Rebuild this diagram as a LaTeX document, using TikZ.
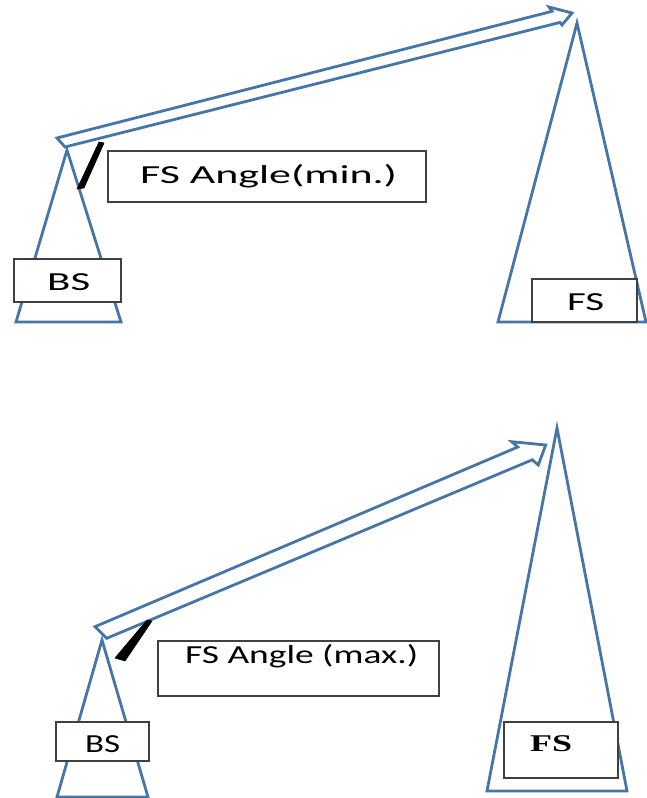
\documentclass[tikz,border=0pt]{standalone}
\usepackage{fontspec}
\usepackage{graphicx}
\newfontfamily\carl{Carlito}
\newfontfamily\tnr{Liberation Serif}
\definecolor{lineblue}{RGB}{70,118,168}
\definecolor{boxgray}{RGB}{64,64,64}
\newcommand\wtext[2]{\resizebox{#1}{\height}{#2}}
\begin{document}
\begin{tikzpicture}[x=1pt,y=-1pt,
  tri/.style={draw=lineblue,line width=2.8pt,line join=miter},
  arr/.style={draw=lineblue,line width=2.8pt,fill=white,line join=miter},
  wedge/.style={fill=black,draw=black,line width=0.6pt,line join=round},
  lbox/.style={draw=boxgray,line width=1.5pt,fill=white,inner sep=0pt,anchor=north west},
  lbl/.style={inner sep=0pt,anchor=base west,font=\carl\fontsize{26}{30}\selectfont},
  lblserif/.style={inner sep=0pt,anchor=base west,font=\tnr\bfseries\fontsize{24}{28}\selectfont}]
\useasboundingbox[fill=white] (0,0) rectangle (646,798);

% ---------------- top panel ----------------
\coordinate (bsA) at (67,150);
\coordinate (bsL) at (16,322);
\coordinate (bsR) at (121,322);
\draw[tri] (bsL) -- (bsA) -- (bsR) -- cycle;

\coordinate (fsA) at (577,23);
\coordinate (fsL) at (498,322);
\coordinate (fsR) at (646,322);
\draw[tri] (fsL) -- (fsA) -- (fsR) -- cycle;

\node[lbox,minimum width=107pt,minimum height=43pt] (bsbox) at (13,258) {};
\node[lbl] (bstext) at (47,290) {\wtext{43pt}{BS}};

\node[lbox,minimum width=105pt,minimum height=43pt] (fsbox) at (531,278) {};
\node[lbl] (fstext) at (567,310) {\wtext{37pt}{FS}};

\node[lbox,minimum width=318pt,minimum height=51pt] (anglebox) at (107,150) {};
\node[lbl] (angletext) at (140,183) {\wtext{257pt}{FS Angle(min.)}};

\coordinate (t1) at (57,138);
\coordinate (t2) at (65,147);
\coordinate (s1) at (552.1,11.3);
\coordinate (h1) at (549,7);
\coordinate (tip) at (572,13);
\coordinate (h2) at (562,25);
\coordinate (s2) at (560.1,22.4);
\draw[arr] (t1) -- (s1) -- (h1) -- (tip) -- (h2) -- (s2) -- (t2) -- cycle;

\coordinate (w1) at (99,142);
\coordinate (w2) at (104,143);
\coordinate (w3) at (84,188);
\coordinate (w4) at (77,189);
\draw[wedge] (w1) -- (w2) -- (w3) -- (w4) -- cycle;

% ---------------- bottom panel ----------------
\coordinate (bbsA) at (102,640);
\coordinate (bbsL) at (57,797);
\coordinate (bbsR) at (148,797);
\draw[tri] (bbsL) -- (bbsA) -- (bbsR) -- cycle;

\coordinate (bfsA) at (557,428);
\coordinate (bfsL) at (487,791);
\coordinate (bfsR) at (627,791);
\draw[tri] (bfsL) -- (bfsA) -- (bfsR) -- cycle;

\node[lbox,minimum width=93pt,minimum height=39pt] (bbsbox) at (55,721) {};
\node[lbl] (bbstext) at (85,752) {\wtext{35pt}{BS}};

\node[lbox,minimum width=114pt,minimum height=56pt] (bfsbox) at (503,721) {};
\node[lblserif] (bfstext) at (530,751) {\wtext{42pt}{FS}};

\node[lbox,minimum width=281pt,minimum height=55pt] (bAnglebox) at (157,640) {};
\node[lbl] (bangletext) at (185,663) {\wtext{233pt}{FS Angle (max.)}};

\coordinate (bt1) at (95,626.7);
\coordinate (bt2) at (106.7,638.3);
\coordinate (bs1) at (517.8,447.0);
\coordinate (bh1) at (511.7,441.7);
\coordinate (btip) at (545.7,445);
\coordinate (bh2) at (538.3,465);
\coordinate (bs2) at (532.3,459.8);
\draw[arr] (bt1) -- (bs1) -- (bh1) -- (btip) -- (bh2) -- (bs2) -- (bt2) -- cycle;

\coordinate (bw1) at (147,620);
\coordinate (bw2) at (152,621);
\coordinate (bw3) at (125,661);
\coordinate (bw4) at (115,658);
\draw[wedge] (bw1) -- (bw2) -- (bw3) -- (bw4) -- cycle;
\end{tikzpicture}
\end{document}
